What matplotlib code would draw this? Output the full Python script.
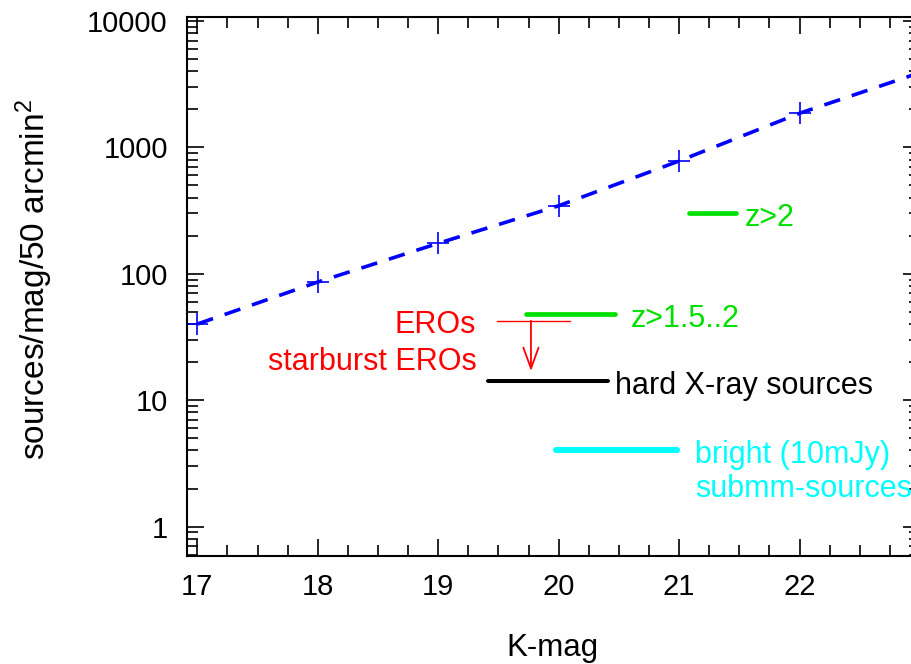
import matplotlib
matplotlib.use("Agg")
import matplotlib.pyplot as plt
from matplotlib.ticker import MultipleLocator, LogLocator, FuncFormatter, NullFormatter

plt.rcParams['font.family'] = ['Liberation Sans', 'DejaVu Sans']
plt.rcParams['mathtext.fontset'] = 'custom'
plt.rcParams['mathtext.rm'] = 'Liberation Sans'
plt.rcParams['mathtext.it'] = 'Liberation Sans'
plt.rcParams['mathtext.default'] = 'regular'

# ---- data ----
kmag = [17, 18, 19, 20, 21, 22, 23]
counts = [40, 86, 174, 345, 780, 1860, 3900]

z2_x = [21.08, 21.47]
z2_y = [300, 300]
z15_x = [19.73, 20.47]
z15_y = [48, 48]
ero_x = [19.49, 20.09]
ero_y = [42.5, 42.5]
ero_arrow_x = 19.77
ero_arrow_from = 42.5
ero_arrow_to = 17
xray_x = [19.415, 20.41]
xray_y = [14.2, 14.2]
submm_x = [19.98, 20.98]
submm_y = [4.0, 4.0]

ytick_vals = [1, 10, 100, 1000, 10000]
xtick_vals = [17, 18, 19, 20, 21, 22]

fig = plt.figure(figsize=(9.12, 6.64), dpi=100)
ax = fig.add_axes([186.5 / 912, 108 / 664, (920 - 186.5) / 912, 539.3 / 664])

ax.plot(kmag, counts, color='#0000ff', lw=2.6, ls=(0, (4.6, 3.4)),
        marker='+', ms=16.5, mew=1.2, markevery=slice(0, 6))

ax.plot(z2_x, z2_y, color='#00e000', lw=3.4, solid_capstyle='round')
ax.plot(z15_x, z15_y, color='#00e000', lw=3.4, solid_capstyle='round')
ax.plot(ero_x, ero_y, color='#ff0000', lw=1.0)
ax.annotate('', xy=(ero_arrow_x, ero_arrow_to), xytext=(ero_arrow_x, ero_arrow_from),
            arrowprops=dict(arrowstyle='->,head_length=1.5,head_width=0.55',
                            color='#ff0000', lw=1.3, mutation_scale=10,
                            shrinkA=0, shrinkB=0))
ax.plot(xray_x, xray_y, color='black', lw=2.9, solid_capstyle='round')
ax.plot(submm_x, submm_y, color='#00ffff', lw=4.4, solid_capstyle='round')

fs = 22
ax.annotate('z>2', xy=(z2_x[1], z2_y[1]), xytext=(9, -13), textcoords='offset pixels',
            color='#00e000', fontsize=fs, ha='left', va='baseline')
ax.annotate('z>1.5..2', xy=(z15_x[1], z15_y[1]), xytext=(15, -12.5), textcoords='offset pixels',
            color='#00e000', fontsize=fs, ha='left', va='baseline')
ax.annotate('EROs', xy=(ero_x[0], ero_y[0]), xytext=(-21, -12.6), textcoords='offset pixels',
            color='#ff0000', fontsize=fs, ha='right', va='baseline')
ax.annotate('starburst EROs', xy=(ero_x[0], ero_y[0]), xytext=(-20, -49.3), textcoords='offset pixels',
            color='#ff0000', fontsize=fs, ha='right', va='baseline')
ax.annotate('hard X-ray sources', xy=(xray_x[1], xray_y[1]), xytext=(7, -13.3), textcoords='offset pixels',
            color='black', fontsize=fs, ha='left', va='baseline')
ax.annotate('bright (10mJy)', xy=(submm_x[1], submm_y[1]), xytext=(18, -12.3), textcoords='offset pixels',
            color='#00ffff', fontsize=fs, ha='left', va='baseline')
ax.annotate('submm-sources', xy=(submm_x[1], submm_y[1]), xytext=(18, -46.7), textcoords='offset pixels',
            color='#00ffff', fontsize=fs, ha='left', va='baseline')

ax.set_yscale('log')
ax.set_xlim(16.91, 23.0)
ax.set_ylim(0.585, 10800)

ax.set_xticks(xtick_vals)
ax.xaxis.set_minor_locator(MultipleLocator(0.25))
ax.set_yticks(ytick_vals)
ax.yaxis.set_major_formatter(FuncFormatter(lambda v, p: f'{v:g}'))
ax.yaxis.set_minor_locator(LogLocator(base=10, subs=range(2, 10)))
ax.yaxis.set_minor_formatter(NullFormatter())

ax.tick_params(which='both', direction='in', top=True, right=True, width=1.2, color='black')
ax.tick_params(which='major', length=12.2)
ax.tick_params(which='minor', length=7.8)
ax.tick_params(axis='x', which='major', labelsize=21, pad=12)
ax.tick_params(axis='y', which='major', labelsize=21, pad=13.5)

for s in ax.spines.values():
    s.set_linewidth(1.5)

ax.set_xlabel('K-mag', fontsize=22.5)
ax.xaxis.set_label_coords(0.499, -0.143)
ax.set_ylabel('sources/mag/50 arcmin$^2$', fontsize=24)
ax.yaxis.set_label_coords(-0.1795, 0.512)

fig.savefig('out.png', dpi=100)
